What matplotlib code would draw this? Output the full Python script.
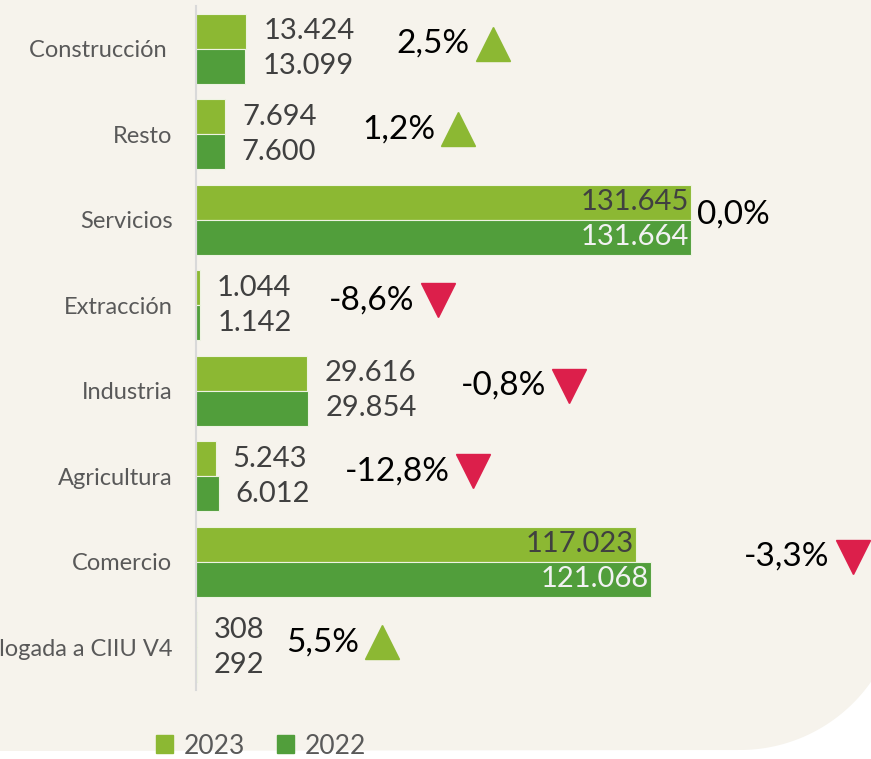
import numpy as np
import matplotlib
matplotlib.use("Agg")
import matplotlib.pyplot as plt
from matplotlib.patches import Polygon, Patch

# --- Datos ---
categorias = ["Construcción ", "Resto", "Servicios", "Extracción", "Industria",
              "Agricultura", "Comercio", "Actividad no homologada a CIIU V4"]
valores_2023 = [13424, 7694, 131645, 1044, 29616, 5243, 117023, 308]
valores_2022 = [13099, 7600, 131664, 1142, 29854, 6012, 121068, 292]
variacion = ["2,5%", "1,2%", "0,0%", "-8,6%", "-0,8%", "-12,8%", "-3,3%", "5,5%"]
tendencia = ["up", "up", None, "down", "down", "down", "down", "up"]
# posicion horizontal de las etiquetas de variacion (en unidades del eje)
pos_variacion = [53300, 44200, 133200, 35400, 70500, 39700, 145800, 24000]
# barras con la etiqueta dentro
dentro = [False, False, True, False, False, False, True, False]

C_2023 = "#8cb833"
C_2022 = "#519e3b"
C_ROJO = "#dc1f4b"
FONDO = "#f6f3ec"

plt.rcParams["font.family"] = ["Lato", "DejaVu Sans"]

W, H = 871, 759
fig = plt.figure(figsize=(W / 100, H / 100), dpi=100)
fig.patch.set_facecolor("white")

# fondo beige con esquina redondeada abajo a la derecha
cx, cy, r = 740, 590, 160
a0 = np.arctan2(np.sqrt(r**2 - (W - cx)**2), W - cx)
t = np.linspace(a0, np.pi / 2, 40)
arco = [(cx + r * np.cos(a), cy + r * np.sin(a)) for a in t]
pts = [(0, 0), (W, 0)] + arco + [(0, 751)]
pts = [(x / W, 1 - y / H) for x, y in pts]
fig.add_artist(Polygon(pts, closed=True, transform=fig.transFigure,
                       facecolor=FONDO, edgecolor="none", zorder=-5))

ax = fig.add_axes([196 / W, 1 - 690 / H, 1 - 196 / W, (690 - 6) / H])
ax.set_facecolor("none")

y = np.arange(len(categorias))
h = 0.41
ax.barh(y - h / 2, valores_2023, height=h, color=C_2023, edgecolor="#eef3e2", linewidth=0.8, label="2023")
ax.barh(y + h / 2, valores_2022, height=h, color=C_2022, edgecolor="#eef3e2", linewidth=0.8, label="2022")

ax.set_xlim(0, 179500)
ax.set_ylim(len(categorias) - 0.5, -0.5)
ax.set_xticks([])
ax.set_yticks(y)
ax.set_yticklabels(categorias, fontsize=17, color="#595959")
ax.tick_params(axis="y", length=0, pad=17)
for s in ["top", "right", "bottom"]:
    ax.spines[s].set_visible(False)
ax.spines["left"].set_color("#d9d9d9")
ax.spines["left"].set_linewidth(1.5)


def fmt(v):
    return f"{v:,}".replace(",", ".")


# etiquetas de valores
for i in range(len(categorias)):
    for v, dy, col_in in [(valores_2023[i], -h / 2, "#404040"), (valores_2022[i], h / 2, "#f2f2f2")]:
        if dentro[i]:
            ax.annotate(fmt(v), (v, i + dy), xytext=(-2, 0), textcoords="offset pixels",
                        ha="right", va="center", fontsize=21, color=col_in)
        else:
            ax.annotate(fmt(v), (v, i + dy), xytext=(17, 0), textcoords="offset pixels",
                        ha="left", va="center", fontsize=21, color="#404040")

# etiquetas de variacion
textos = []
for i in range(len(categorias)):
    tx = ax.text(pos_variacion[i], i - 0.06, variacion[i], ha="left", va="center",
                 fontsize=24, color="black")
    textos.append(tx)

fig.canvas.draw()
rend = fig.canvas.get_renderer()
inv = ax.transData.inverted()
for tx, tend in zip(textos, tendencia):
    if tend is None:
        continue
    bb = tx.get_window_extent(rend)
    px = bb.x1 + 5 + 18
    py = (bb.y0 + bb.y1) / 2
    dx, dy = inv.transform((px, py))
    ax.plot([dx], [dy], marker="^" if tend == "up" else "v", ms=25,
            color=C_2023 if tend == "up" else C_ROJO, clip_on=False, linestyle="none")

fig.legend(handles=[Patch(color=C_2023, label="2023"), Patch(color=C_2022, label="2022")],
           loc="center", bbox_to_anchor=(261 / W, 1 - 746 / H), ncol=2, frameon=False,
           fontsize=19, labelcolor="#595959", handlelength=0.65, handleheight=0.65,
           handletextpad=0.4, columnspacing=1.2)

fig.savefig("out.png", dpi=100, facecolor=fig.get_facecolor())
